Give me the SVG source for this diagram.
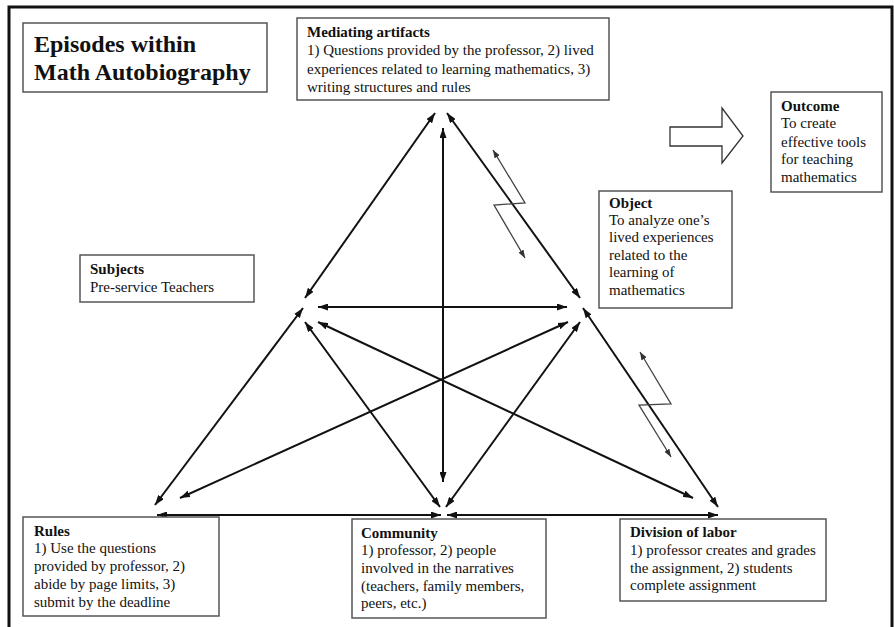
<svg xmlns="http://www.w3.org/2000/svg" width="894" height="627" viewBox="0 0 894 627">
<defs>
<marker id="ah" viewBox="0 0 10 10" refX="10" refY="5" markerWidth="10" markerHeight="7" markerUnits="userSpaceOnUse" orient="auto-start-reverse" preserveAspectRatio="none"><path d="M0,0 L10,5 L0,10 z" fill="#111"/></marker>
<marker id="sh" viewBox="0 0 10 10" refX="10" refY="5" markerWidth="8" markerHeight="6" markerUnits="userSpaceOnUse" orient="auto-start-reverse" preserveAspectRatio="none"><path d="M0,0 L10,5 L0,10 z" fill="#333"/></marker>
</defs>
<style>
.box{fill:#fff;stroke:#555;stroke-width:1.5}
.t{font-family:"Liberation Serif","Times New Roman",serif;font-size:15px;fill:#111}
.b{font-weight:bold}
.c{stroke:#111;stroke-width:2;fill:none;marker-start:url(#ah);marker-end:url(#ah)}
.z{stroke:#444;stroke-width:1.3;fill:none;marker-start:url(#sh);marker-end:url(#sh)}
</style>
<rect x="0" y="0" width="894" height="627" fill="#fff"/>
<rect x="9" y="7" width="883" height="630" fill="none" stroke="#111" stroke-width="3"/>

<g id="connectors">
<line class="c" x1="435" y1="113" x2="305" y2="298"/>
<line class="c" x1="447" y1="113" x2="580" y2="298"/>
<line class="c" x1="443" y1="128" x2="443" y2="482"/>
<line class="c" x1="318" y1="307" x2="567" y2="307"/>
<line class="c" x1="303" y1="308" x2="155" y2="505"/>
<line class="c" x1="568" y1="322" x2="180" y2="498"/>
<line class="c" x1="318" y1="322" x2="693" y2="498"/>
<line class="c" x1="583" y1="308" x2="718" y2="507"/>
<line class="c" x1="305" y1="322" x2="440" y2="507"/>
<line class="c" x1="580" y1="322" x2="446" y2="507"/>
<line class="c" x1="157" y1="515" x2="441" y2="515"/>
<line class="c" x1="447" y1="515" x2="718" y2="515"/>
<polyline class="z" points="493,150 525,203 494,205 525,258"/>
<polyline class="z" points="640,352 671,404 639,405 671,457"/>
</g>

<g id="title">
<rect class="box" x="23" y="23" width="244" height="69"/>
<text class="t b" x="34" y="52" style="font-size:24px">Episodes within</text>
<text class="t b" x="34" y="80" style="font-size:24px">Math Autobiography</text>
</g>

<g id="mediating-artifacts">
<rect class="box" x="297" y="18" width="312" height="82"/>
<text class="t"><tspan class="b" x="307" y="37">Mediating artifacts</tspan><tspan x="307" y="55">1) Questions provided by the professor, 2) lived</tspan><tspan x="307" y="74">experiences related to learning mathematics, 3)</tspan><tspan x="307" y="92">writing structures and rules</tspan></text>
</g>

<g id="outcome-arrow">
<path d="M670,127 L722,127 L722,108 L743,136 L722,163 L722,146 L670,146 Z" fill="#fff" stroke="#333" stroke-width="1.3"/>
</g>

<g id="outcome">
<rect class="box" x="771" y="92" width="111" height="100"/>
<text class="t"><tspan class="b" x="781" y="111">Outcome</tspan><tspan x="781" y="128">To create</tspan><tspan x="781" y="147">effective tools</tspan><tspan x="781" y="164">for teaching</tspan><tspan x="781" y="182">mathematics</tspan></text>
</g>

<g id="object">
<rect class="box" x="599" y="191" width="133" height="117"/>
<text class="t"><tspan class="b" x="609" y="208">Object</tspan><tspan x="609" y="225">To analyze one’s</tspan><tspan x="609" y="242">lived experiences</tspan><tspan x="609" y="260">related to the</tspan><tspan x="609" y="277">learning of</tspan><tspan x="609" y="295">mathematics</tspan></text>
</g>

<g id="subjects">
<rect class="box" x="80" y="255" width="174" height="47"/>
<text class="t"><tspan class="b" x="90" y="274">Subjects</tspan><tspan x="90" y="292">Pre-service Teachers</tspan></text>
</g>

<g id="rules">
<rect class="box" x="23" y="517" width="196" height="99"/>
<text class="t"><tspan class="b" x="34" y="536">Rules</tspan><tspan x="34" y="553">1) Use the questions</tspan><tspan x="34" y="571">provided by professor, 2)</tspan><tspan x="34" y="589">abide by page limits, 3)</tspan><tspan x="34" y="607">submit by the deadline</tspan></text>
</g>

<g id="community">
<rect class="box" x="352" y="519" width="194" height="99"/>
<text class="t"><tspan class="b" x="361" y="538">Community</tspan><tspan x="361" y="555">1) professor, 2) people</tspan><tspan x="361" y="573">involved in the narratives</tspan><tspan x="361" y="591">(teachers, family members,</tspan><tspan x="361" y="608">peers, etc.)</tspan></text>
</g>

<g id="division-of-labor">
<rect class="box" x="620" y="519" width="206" height="82"/>
<text class="t"><tspan class="b" x="630" y="537">Division of labor</tspan><tspan x="630" y="555">1) professor creates and grades</tspan><tspan x="630" y="573">the assignment, 2) students</tspan><tspan x="630" y="590">complete assignment</tspan></text>
</g>
</svg>
